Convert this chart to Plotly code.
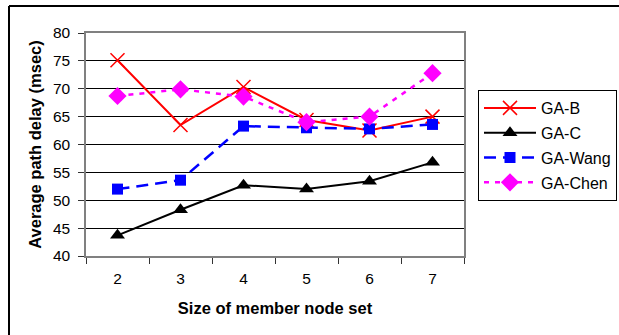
import plotly.graph_objects as go

categories = ["2", "3", "4", "5", "6", "7"]
ga_b = [75.1, 63.5, 70.3, 64.4, 62.5, 65.0]
ga_c = [43.7, 48.3, 52.7, 52.0, 53.4, 56.8]
ga_wang = [52.0, 53.6, 63.3, 63.0, 62.8, 63.6]
ga_chen = [68.7, 69.9, 68.6, 64.0, 65.0, 72.8]
y_ticks = [40, 45, 50, 55, 60, 65, 70, 75, 80]

FONT = "Liberation Sans, Arial, sans-serif"

fig = go.Figure()
fig.add_trace(go.Scatter(x=categories, y=ga_b, name="GA-B", mode="lines+markers", legendgroup="a",
                         line=dict(color="#FF0000", width=2),
                         marker=dict(symbol="x-thin", size=14, line=dict(color="#FF0000", width=1.5))))
fig.add_trace(go.Scatter(x=categories, y=ga_c, name="GA-C", mode="lines+markers", legendgroup="b",
                         line=dict(color="#000000", width=2),
                         marker=dict(symbol="triangle-up", size=13, color="#000000")))
fig.add_trace(go.Scatter(x=categories, y=ga_wang, name="GA-Wang", mode="lines+markers", legendgroup="c",
                         line=dict(color="#0000FF", width=2.5, dash="12px,7px"),
                         marker=dict(symbol="square", size=11, color="#0000FF")))
fig.add_trace(go.Scatter(x=categories, y=ga_chen, name="GA-Chen", mode="lines+markers", legendgroup="d",
                         line=dict(color="#FF00FF", width=2.5, dash="5px,6px"),
                         marker=dict(symbol="diamond", size=14, color="#FF00FF")))

px_x = lambda p: (p - 86) / 378
px_y = lambda p: (256 - p) / 223

fig.update_layout(
    width=619, height=335,
    margin=dict(l=86, r=155, t=33, b=79, autoexpand=False),
    paper_bgcolor="white", plot_bgcolor="white",
    font=dict(family=FONT, size=15, color="black"),
    showlegend=True,
    legend=dict(x=px_x(478), y=px_y(90), xanchor="left", yanchor="top",
                bordercolor="black", borderwidth=1, bgcolor="white",
                font=dict(size=16, family=FONT), tracegroupgap=1,
                itemwidth=52),
    xaxis=dict(type="category", tickson="boundaries", ticks="outside", ticklen=6,
               tickcolor="#333333", showgrid=False, showline=True, linecolor="#808080",
               linewidth=1.5, mirror=True, tickfont=dict(size=15.5), ticklabelstandoff=8,
               title=dict(text="<b>Size of member node set</b>", font=dict(size=16.5), standoff=16),
               range=[-0.5, 5.5], automargin=False),
    yaxis=dict(range=[40, 80], tickvals=y_ticks, ticks="outside", ticklen=6,
               tickcolor="#333333", showgrid=True, gridcolor="black", gridwidth=1,
               showline=True, linecolor="#808080", linewidth=1.5, mirror=True,
               tickfont=dict(size=15.5), zeroline=False, ticklabelstandoff=5, automargin=False,
               title=dict(text="<b>Average path delay (msec)</b>", font=dict(size=16.5), standoff=7)),
    shapes=[
        dict(type="line", xref="paper", yref="paper", x0=px_x(9), x1=px_x(619), y0=px_y(6), y1=px_y(6),
             line=dict(color="black", width=2)),
        dict(type="line", xref="paper", yref="paper", x0=px_x(9), x1=px_x(9), y0=px_y(6), y1=px_y(335),
             line=dict(color="black", width=2)),
    ],
)

fig.write_html(
    "out.html", config={"displayModeBar": False},
    post_script="document.body.style.margin='0';document.body.style.overflow='hidden';"
                "document.documentElement.style.overflow='hidden';"
                "window.dispatchEvent(new Event('resize'));")
